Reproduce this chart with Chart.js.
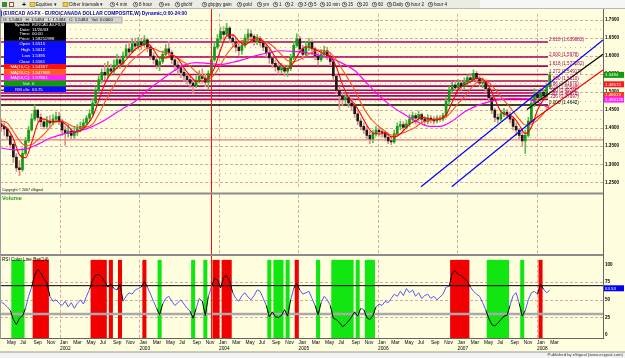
<!DOCTYPE html>
<html>
<head>
<meta charset="utf-8">
<title>EURCAD A0-FX weekly</title>
<script src="https://cdn.jsdelivr.net/npm/chart.js@4.4.1/dist/chart.umd.min.js"></script>
<style>
  html, body { margin: 0; padding: 0; background: #fff; }
  #wrap { position: relative; width: 625px; height: 358px; overflow: hidden; }
  #wrap canvas { position: absolute; left: 0; }
</style>
</head>
<body>
<div id="wrap">
  <canvas id="frame" width="625" height="358" style="top:0"></canvas>
  <canvas id="price" width="625" height="184" style="top:9px"></canvas>
  <canvas id="rsi" width="625" height="97" style="top:255px"></canvas>
  <canvas id="overlay" width="625" height="358" style="top:0"></canvas>
</div>
<script>
// bars are two weeks apart, first one early April 2001
const firstBar = 2001.26;
const barStep = 14 / 365.25;

const opens = [
  1.412,1.405,1.398,1.378,1.355,1.320,1.290,1.285,1.330,1.365,
  1.395,1.425,1.450,1.430,1.418,1.405,1.420,1.415,1.425,1.432,
  1.420,1.395,1.385,1.392,1.380,1.392,1.398,1.405,1.415,1.428,
  1.440,1.470,1.505,1.535,1.555,1.548,1.565,1.558,1.575,1.590,
  1.580,1.600,1.620,1.612,1.635,1.628,1.640,1.632,1.645,1.625,
  1.600,1.590,1.575,1.585,1.605,1.620,1.610,1.590,1.575,1.568,
  1.555,1.545,1.535,1.525,1.518,1.530,1.545,1.538,1.528,1.552,
  1.590,1.625,1.648,1.668,1.660,1.678,1.650,1.640,1.625,1.615,
  1.630,1.650,1.662,1.655,1.640,1.648,1.638,1.625,1.610,1.595,
  1.580,1.570,1.562,1.568,1.558,1.565,1.595,1.630,1.648,1.620,
  1.605,1.625,1.638,1.620,1.600,1.590,1.605,1.615,1.600,1.585,
  1.545,1.505,1.490,1.480,1.485,1.470,1.462,1.440,1.420,1.405,
  1.395,1.380,1.370,1.385,1.395,1.390,1.388,1.375,1.365,1.362,
  1.385,1.405,1.410,1.402,1.412,1.425,1.435,1.428,1.438,1.425,
  1.418,1.428,1.425,1.420,1.428,1.425,1.435,1.475,1.505,1.520,
  1.512,1.525,1.515,1.528,1.540,1.535,1.552,1.538,1.525,1.530,
  1.510,1.485,1.450,1.430,1.425,1.440,1.445,1.438,1.425,1.405,
  1.395,1.380,1.365,1.380,1.420,1.470,1.495,1.485,1.500,1.490,
  1.515];
const highs = [
  1.425,1.415,1.400,1.382,1.360,1.330,1.310,1.345,1.375,1.405,
  1.440,1.465,1.452,1.440,1.425,1.432,1.435,1.438,1.445,1.444,
  1.425,1.405,1.408,1.400,1.405,1.410,1.418,1.425,1.435,1.452,
  1.480,1.515,1.545,1.565,1.580,1.585,1.578,1.590,1.605,1.600,
  1.612,1.632,1.638,1.648,1.650,1.652,1.650,1.657,1.650,1.630,
  1.610,1.600,1.598,1.615,1.632,1.641,1.615,1.598,1.585,1.575,
  1.565,1.552,1.545,1.535,1.545,1.560,1.565,1.550,1.560,1.600,
  1.640,1.660,1.680,1.682,1.691,1.682,1.660,1.648,1.638,1.640,
  1.660,1.675,1.672,1.660,1.660,1.655,1.645,1.632,1.618,1.600,
  1.590,1.582,1.580,1.575,1.575,1.605,1.640,1.662,1.655,1.630,
  1.640,1.649,1.645,1.625,1.610,1.618,1.628,1.625,1.610,1.590,
  1.550,1.515,1.500,1.498,1.492,1.480,1.468,1.448,1.428,1.415,
  1.405,1.392,1.395,1.405,1.402,1.400,1.392,1.385,1.378,1.395,
  1.415,1.420,1.418,1.422,1.438,1.445,1.442,1.448,1.442,1.432,
  1.438,1.435,1.432,1.435,1.435,1.442,1.485,1.515,1.528,1.530,
  1.535,1.532,1.540,1.548,1.552,1.562,1.558,1.545,1.540,1.535,
  1.515,1.490,1.455,1.440,1.450,1.455,1.452,1.445,1.430,1.415,
  1.400,1.392,1.395,1.430,1.480,1.510,1.508,1.510,1.508,1.525,
  1.556];
const lows = [
  1.392,1.380,1.368,1.345,1.305,1.280,1.268,1.280,1.325,1.360,
  1.392,1.420,1.418,1.405,1.398,1.400,1.405,1.410,1.415,1.410,
  1.380,1.352,1.375,1.370,1.372,1.380,1.390,1.398,1.410,1.420,
  1.435,1.465,1.500,1.525,1.535,1.540,1.545,1.550,1.565,1.565,
  1.575,1.595,1.600,1.610,1.615,1.620,1.618,1.625,1.612,1.590,
  1.580,1.565,1.560,1.580,1.595,1.600,1.580,1.560,1.550,1.540,
  1.530,1.522,1.512,1.496,1.512,1.525,1.525,1.515,1.510,1.545,
  1.585,1.620,1.640,1.645,1.655,1.638,1.625,1.612,1.602,1.605,
  1.625,1.640,1.640,1.630,1.632,1.628,1.615,1.598,1.580,1.568,
  1.558,1.550,1.552,1.545,1.544,1.560,1.590,1.625,1.610,1.590,
  1.600,1.615,1.605,1.590,1.575,1.585,1.595,1.590,1.575,1.535,
  1.495,1.452,1.462,1.468,1.458,1.450,1.430,1.410,1.395,1.385,
  1.370,1.357,1.360,1.378,1.378,1.375,1.365,1.357,1.354,1.358,
  1.380,1.395,1.392,1.398,1.405,1.415,1.412,1.420,1.412,1.408,
  1.412,1.415,1.412,1.415,1.418,1.420,1.430,1.465,1.498,1.505,
  1.505,1.505,1.510,1.520,1.525,1.530,1.528,1.515,1.512,1.498,
  1.475,1.440,1.418,1.415,1.420,1.432,1.428,1.415,1.395,1.380,
  1.370,1.350,1.330,1.375,1.415,1.460,1.478,1.480,1.478,1.485,
  1.510];
const closes = [
  1.405,1.398,1.378,1.355,1.320,1.290,1.285,1.330,1.365,1.395,
  1.425,1.450,1.430,1.418,1.405,1.420,1.415,1.425,1.432,1.420,
  1.395,1.385,1.392,1.380,1.392,1.398,1.405,1.415,1.428,1.440,
  1.470,1.505,1.535,1.555,1.548,1.565,1.558,1.575,1.590,1.580,
  1.600,1.620,1.612,1.635,1.628,1.640,1.632,1.645,1.625,1.600,
  1.590,1.575,1.585,1.605,1.620,1.610,1.590,1.575,1.568,1.555,
  1.545,1.535,1.525,1.518,1.530,1.545,1.538,1.528,1.552,1.590,
  1.625,1.648,1.668,1.660,1.678,1.650,1.640,1.625,1.615,1.630,
  1.650,1.662,1.655,1.640,1.648,1.638,1.625,1.610,1.595,1.580,
  1.570,1.562,1.568,1.558,1.565,1.595,1.630,1.648,1.620,1.605,
  1.625,1.638,1.620,1.600,1.590,1.605,1.615,1.600,1.585,1.545,
  1.505,1.490,1.480,1.485,1.470,1.462,1.440,1.420,1.405,1.395,
  1.380,1.370,1.385,1.395,1.390,1.388,1.375,1.365,1.362,1.385,
  1.405,1.410,1.402,1.412,1.425,1.435,1.428,1.438,1.425,1.418,
  1.428,1.425,1.420,1.428,1.425,1.435,1.475,1.505,1.520,1.512,
  1.525,1.515,1.528,1.540,1.535,1.552,1.538,1.525,1.530,1.510,
  1.485,1.450,1.430,1.425,1.440,1.445,1.438,1.425,1.405,1.395,
  1.380,1.365,1.380,1.420,1.470,1.495,1.485,1.500,1.490,1.515,
  1.548];

// moving averages as drawn: ma10/ma20 every 2nd bar, ma50 every 4th bar
const ma10 = [
  1.410,1.400,1.371,1.326,1.318,1.360,1.413,1.426,1.418,1.419,
  1.417,1.405,1.389,1.393,1.408,1.432,1.476,1.523,1.552,1.567,
  1.581,1.600,1.619,1.629,1.634,1.618,1.595,1.595,1.602,1.593,
  1.567,1.546,1.531,1.531,1.539,1.567,1.617,1.656,1.659,1.642,
  1.632,1.642,1.651,1.641,1.623,1.596,1.575,1.565,1.583,1.612,
  1.626,1.622,1.615,1.606,1.599,1.570,1.521,1.486,1.467,1.439,
  1.408,1.387,1.384,1.387,1.376,1.378,1.393,1.411,1.420,1.430,
  1.427,1.423,1.425,1.437,1.472,1.507,1.520,1.529,1.539,1.536,
  1.518,1.481,1.446,1.436,1.431,1.409,1.385,1.403,1.450,1.480,1.497];
const ma20 = [
  1.420,1.415,1.391,1.366,1.352,1.354,1.368,1.383,1.402,1.419,
  1.420,1.412,1.404,1.402,1.403,1.411,1.438,1.472,1.503,1.533,
  1.559,1.580,1.596,1.610,1.622,1.621,1.613,1.610,1.604,1.594,
  1.583,1.572,1.556,1.544,1.538,1.549,1.576,1.605,1.626,1.639,
  1.645,1.646,1.644,1.639,1.635,1.621,1.604,1.587,1.584,1.591,
  1.600,1.610,1.617,1.615,1.609,1.590,1.562,1.535,1.506,1.471,
  1.442,1.420,1.404,1.392,1.381,1.382,1.387,1.394,1.403,1.416,
  1.421,1.424,1.427,1.431,1.448,1.469,1.487,1.509,1.526,1.530,
  1.526,1.509,1.487,1.468,1.447,1.425,1.409,1.411,1.423,1.441,1.466];
const ma50 = [
  1.345,1.340,1.342,1.355,1.372,1.383,1.390,1.398,1.413,1.433,
  1.455,1.475,1.505,1.530,1.555,1.575,1.582,1.580,1.577,1.583,
  1.592,1.602,1.610,1.615,1.613,1.610,1.603,1.595,1.580,1.560,
  1.525,1.490,1.462,1.440,1.420,1.406,1.405,1.420,1.445,1.462,
  1.473,1.480,1.483,1.482,1.472,1.455];

const rsi = [
  47,44,40,35,22,15,24,27,38,55,
  68,85,93,88,80,74,55,48,50,45,
  42,48,40,46,38,45,50,44,55,65,
  78,85,86,82,76,68,72,66,64,72,
  48,55,60,58,64,66,68,76,68,58,
  48,38,29,44,52,55,48,42,46,50,
  44,38,34,24,38,52,48,28,55,68,
  80,78,67,82,84,76,60,52,48,56,
  60,54,50,56,64,62,52,42,26,33,
  26,25,28,36,27,50,66,73,64,58,
  60,62,52,42,29,46,55,50,42,24,
  22,18,12,15,20,26,33,27,38,36,
  25,22,28,40,44,42,48,46,52,58,
  55,62,56,66,60,64,55,60,52,56,
  58,52,55,50,54,58,68,69,88,91,
  86,84,80,76,68,62,58,55,46,36,
  24,15,13,17,22,27,28,42,56,60,
  45,27,35,50,60,62,58,72,65,60,
  63.5];
const overbought = 70;
const oversold = 30;

const fibRatios = ['2.618', '2.000', '1.618', '1.272', '1.000', '.786', '.618', '.500', '.382', '.236', '0.000'];
const fibLevels = [1.639082, 1.5978, 1.572282, 1.54917, 1.5310, 1.516705, 1.505482, 1.4976, 1.489718, 1.479965, 1.4642];
const fibText = ['1.639082', '1.5978', '1.572282', '1.54917', '1.5310', '1.51670', '1.50548', '1.4976', '1.48972', '1.47997', '1.4642'];
const supportLevel = 1.3675;

const blueLine1 = [{x: 2006.541, y: 1.2376}, {x: 2008.83, y: 1.6447}];
const blueLine2 = [{x: 2006.927, y: 1.2376}, {x: 2007.975, y: 1.4255}];
const blackLine = [{x: 2007.874, y: 1.4518}, {x: 2008.83, y: 1.6053}];
const redLine = [{x: 2007.887, y: 1.4124}, {x: 2008.83, y: 1.5616}];

const priceTicks = [1.25, 1.30, 1.35, 1.40, 1.45, 1.50, 1.55, 1.60, 1.65, 1.70];
const priceMinor = [1.275, 1.325, 1.375, 1.425, 1.475, 1.525, 1.575, 1.625, 1.675];
const rsiTicks = [0, 25, 50, 75, 100];
const monthNames = ['Jan', 'Feb', 'Mar', 'Apr', 'May', 'Jun', 'Jul', 'Aug', 'Sep', 'Oct', 'Nov', 'Dec'];
const yearStarts = [2002, 2003, 2004, 2005, 2006, 2007, 2008];
const cursorT = 2003.895;   // 11/26/03
const fibEnd = 2008.138;

// visible window of both panes
const X_MIN = 2001.2453, X_MAX = 2008.8302;
const P_MIN = 1.2334, P_MAX = 1.7176;
const R_MIN = -4, R_MAX = 106.67;

const FONT = '"Liberation Sans", Arial, sans-serif';
Chart.defaults.font.family = FONT;

const barT = closes.map((c, i) => firstBar + i * barStep);
const isUp = closes.map((c, i) => c >= opens[i]);
const inZone = v => v > overbought || v < oversold;

const paneGrid = {
  id: 'paneGrid',
  beforeDatasetsDraw(chart, args, o) {
    const {ctx, chartArea: a, scales: {x, y}} = chart;
    ctx.save();
    ctx.lineWidth = 1;
    const h = (v, dash, col) => {
      const py = Math.round(y.getPixelForValue(v)) + 0.5;
      ctx.setLineDash(dash); ctx.strokeStyle = col;
      ctx.beginPath(); ctx.moveTo(a.left, py); ctx.lineTo(a.right, py); ctx.stroke();
    };
    (o.minor || []).forEach(v => h(v, [1, 4], '#c8b4a8'));
    (o.major || []).forEach(v => h(v, [3, 2], '#d9a8a8'));
    ctx.setLineDash([3, 2]); ctx.strokeStyle = '#d9a8a8';
    (o.vertical || []).forEach(v => {
      const px = Math.round(x.getPixelForValue(v)) + 0.5;
      ctx.beginPath(); ctx.moveTo(px, a.top); ctx.lineTo(px, a.bottom); ctx.stroke();
    });
    ctx.restore();
  }
};

const fibTags = {
  id: 'fibTags',
  afterDatasetsDraw(chart) {
    const {ctx, scales: {x, y}} = chart;
    ctx.save();
    ctx.font = '4.6px ' + FONT;
    ctx.textBaseline = 'middle';
    fibLevels.forEach((lv, k) => {
      ctx.fillStyle = k === fibLevels.length - 1 ? '#000' : '#a8005a';
      ctx.fillText(fibRatios[k] + ' (' + fibText[k] + ')', x.getPixelForValue(fibEnd) + 1, y.getPixelForValue(lv) - 2.6);
    });
    ctx.restore();
  }
};

const flat = (lv, x1) => [{x: X_MIN, y: lv}, {x: x1, y: lv}];
const lineDs = (data, color, width, order, extra) => Object.assign({
  type: 'line', data, borderColor: color, borderWidth: width, pointRadius: 0, order
}, extra || {});

const priceSets = [];
fibLevels.forEach((lv, k) => priceSets.push(lineDs(flat(lv, fibEnd), k === fibLevels.length - 1 ? '#000' : '#b0005c', 1.6, 30)));
priceSets.push(lineDs(flat(supportLevel, X_MAX), '#ea7a7a', 1.2, 30));
priceSets.push({
  type: 'bar', data: barT.map((t, i) => ({x: t, y: [lows[i], highs[i]]})),
  backgroundColor: isUp.map(u => u ? '#5cbc5c' : '#e48c8c'),
  barThickness: 1, grouped: false, order: 20
});
priceSets.push({
  type: 'bar', data: barT.map((t, i) => ({x: t, y: [opens[i], closes[i]]})),
  backgroundColor: isUp.map(u => u ? '#169a16' : '#1a1a1a'),
  barThickness: 2, minBarLength: 1, grouped: false, order: 19
});
const smooth = {tension: 0.35, cubicInterpolationMode: 'monotone'};
priceSets.push(lineDs(ma50.map((v, k) => ({x: barT[k * 4], y: v})), '#ff00ff', 1.2, 5, smooth));
priceSets.push(lineDs(ma20.map((v, k) => ({x: barT[k * 2], y: v})), '#ff5020', 1.1, 4, smooth));
priceSets.push(lineDs(ma10.map((v, k) => ({x: barT[k * 2], y: v})), '#ff0000', 1.1, 3, smooth));
priceSets.push(lineDs(blueLine1, '#0000ff', 1.2, 1));
priceSets.push(lineDs(blueLine2, '#0000ff', 1.2, 1));
priceSets.push(lineDs(blackLine, '#000000', 1.2, 1));
priceSets.push(lineDs(redLine, '#ff0000', 1.2, 1));

const priceChart = new Chart(document.getElementById('price'), {
  type: 'line',
  data: {datasets: priceSets},
  options: {
    responsive: false, animation: false, events: [],
    layout: {padding: 0, autoPadding: false},
    plugins: {
      legend: {display: false}, tooltip: {enabled: false},
      paneGrid: {major: priceTicks, minor: priceMinor, vertical: yearStarts}
    },
    scales: {
      x: {type: 'linear', min: X_MIN, max: X_MAX, display: false, offset: false},
      y: {
        position: 'right', min: P_MIN, max: P_MAX,
        afterBuildTicks: s => { s.ticks = priceTicks.map(v => ({value: v})); },
        afterFit: s => { s.width = 22; },
        ticks: {color: '#000', font: {size: 4.6, weight: 'bold'}, padding: 2, callback: v => v.toFixed(4)},
        grid: {display: false, drawTicks: false},
        border: {color: '#555', width: 1}
      }
    }
  },
  plugins: [paneGrid, fibTags]
});

const monthTicks = [];
for (let yr = 2001; yr <= 2008; yr++) {
  [1, 3, 5, 7, 9, 11].forEach(m => {
    const t = yr + (m - 1) / 12;
    if (t > 2001.3 && t < 2008.2) monthTicks.push(t);
  });
}

const rsiChart = new Chart(document.getElementById('rsi'), {
  type: 'line',
  data: {datasets: [
    {
      type: 'bar', order: 20, grouped: false, barThickness: 3.4,
      data: rsi.map((v, i) => ({x: barT[i], y: inZone(v) ? [R_MIN, R_MAX] : null})),
      backgroundColor: rsi.map(v => v > overbought ? '#f00000' : '#12e612')
    },
    lineDs(flat(overbought, X_MAX), '#000', 1, 6),
    lineDs(flat(oversold, X_MAX), '#a9a9a9', 2.5, 6),
    lineDs(rsi.map((v, i) => ({x: barT[i], y: v})), '#5656ff', 1, 1, {
      segment: {borderColor: c => (inZone(c.p0.parsed.y) || inZone(c.p1.parsed.y)) ? '#000' : '#5656ff'}
    })
  ]},
  options: {
    responsive: false, animation: false, events: [],
    layout: {padding: 0, autoPadding: false},
    plugins: {
      legend: {display: false}, tooltip: {enabled: false},
      paneGrid: {major: [25, 50, 75], vertical: yearStarts}
    },
    scales: {
      x: {
        type: 'linear', min: X_MIN, max: X_MAX, offset: false,
        afterBuildTicks: s => { s.ticks = monthTicks.map(v => ({value: v})); },
        afterFit: s => { s.height = 14; },
        ticks: {
          autoSkip: false, maxRotation: 0, align: 'start', padding: 1, color: '#000',
          font: {size: 4.8, lineHeight: 1.4},
          callback: v => {
            const yr = Math.floor(v + 1e-6);
            const m = Math.round((v - yr) * 12);
            return m === 0 ? [monthNames[m], String(yr)] : monthNames[m];
          }
        },
        grid: {display: false, drawTicks: false},
        border: {display: false}
      },
      y: {
        position: 'right', min: R_MIN, max: R_MAX,
        afterBuildTicks: s => { s.ticks = rsiTicks.map(v => ({value: v})); },
        afterFit: s => { s.width = 22; },
        ticks: {color: '#000', font: {size: 4.6, weight: 'bold'}, padding: 2},
        grid: {display: false, drawTicks: false},
        border: {color: '#555', width: 1}
      }
    }
  },
  plugins: [paneGrid]
});

// ---------- window chrome behind the charts ----------
const fr = document.getElementById('frame').getContext('2d');
function txt(ctx, s, x, y, size, color, opt) {
  opt = opt || {};
  ctx.font = (opt.bold ? 'bold ' : '') + size + 'px ' + FONT;
  ctx.fillStyle = color;
  ctx.textAlign = opt.align || 'left';
  ctx.textBaseline = 'middle';
  if (opt.w) ctx.fillText(s, x, y, opt.w); else ctx.fillText(s, x, y);
}
fr.fillStyle = '#ffffe0';
fr.fillRect(0, 9, 625, 343);
fr.fillStyle = '#ecebe4';
fr.fillRect(0, 0, 480, 9);
fr.fillStyle = '#f7f7f7';
fr.fillRect(480, 0, 145, 9);
fr.fillStyle = '#b8b8b8';
fr.fillRect(0, 8, 625, 1);
// toolbar
fr.fillStyle = '#3c8a3c'; fr.fillRect(2, 2, 5, 5);
fr.fillStyle = '#8a5a2a'; fr.fillRect(9, 2, 5, 5);
fr.fillStyle = '#ffffff'; fr.fillRect(10, 3, 3, 3);
txt(fr, '+', 22, 4.6, 7, '#000', {bold: true});
const toolItems = [
  ['f', 30, 'Equities \u25BE'], ['f', 63, 'Other Intervals \u25BE'],
  ['c', 110, '4 min'], ['c', 133, '8 hour'], ['c', 159, 'es'], ['c', 175, 'gbchf'],
  ['c', 202, 'gbpjpy gain'], ['c', 237, 'gold'], ['c', 257, 'ym'], ['c', 273, '1'],
  ['c', 285, '2'], ['c', 298, '3'], ['c', 308, '5'], ['c', 320, '10 min'],
  ['c', 342, '15'], ['c', 357, '20'], ['c', 372, '60'], ['c', 387, 'Daily'],
  ['c', 405, 'hour 2'], ['c', 428, 'hour 4']
];
toolItems.forEach(([kind, x, label]) => {
  if (kind === 'f') {
    fr.fillStyle = '#f0cc48'; fr.fillRect(x, 2.5, 5, 4);
    fr.strokeStyle = '#a07a10'; fr.lineWidth = 0.6; fr.strokeRect(x, 2.5, 5, 4);
  } else {
    fr.strokeStyle = '#333'; fr.lineWidth = 0.7;
    fr.beginPath(); fr.arc(x + 2.5, 4.5, 2.2, 0, Math.PI * 2); fr.stroke();
    fr.beginPath(); fr.moveTo(x + 2.5, 3); fr.lineTo(x + 2.5, 4.6); fr.lineTo(x + 3.6, 4.6); fr.stroke();
  }
  txt(fr, label, x + 6, 4.6, 4.6, '#111');
});
// bottom strip
fr.fillStyle = '#f3f3f3';
fr.fillRect(0, 352, 625, 6);
fr.fillStyle = '#9a9a9a';
fr.fillRect(0, 351.5, 625, 1);
txt(fr, 'Published by eSignal (www.esignal.com)', 623, 355.3, 4.2, '#333', {align: 'right'});

// ---------- overlay: pane borders, volume pane, legends ----------
const ov = document.getElementById('overlay').getContext('2d');
const xs = priceChart.scales.x;
const ys = priceChart.scales.y;
const rs = rsiChart.scales.y;

ov.save();
ov.strokeStyle = '#d9a8a8'; ov.lineWidth = 1; ov.setLineDash([3, 2]);
yearStarts.forEach(t => {
  const px = Math.round(xs.getPixelForValue(t)) + 0.5;
  ov.beginPath(); ov.moveTo(px, 195); ov.lineTo(px, 254); ov.stroke();
});
ov.restore();

const cx = Math.round(xs.getPixelForValue(cursorT));
ov.fillStyle = '#ff1010';
ov.fillRect(cx, 9, 1, 329);

ov.fillStyle = '#8c8c8c';
ov.fillRect(0, 192.5, 603, 2);
ov.fillRect(0, 254, 603, 2);
ov.fillStyle = '#666';
ov.fillRect(0, 338, 603, 1);
ov.fillRect(603, 9, 1, 330);
ov.fillStyle = '#9a9a9a';
ov.fillRect(0, 9, 1, 330);

txt(ov, 'Volume', 2, 198.5, 5.6, '#2a9a2a', {bold: true});
txt(ov, 'RSI Color Line Bar(14)', 2, 260, 4.6, '#000', {w: 52});
txt(ov, 'Copyright \u00A9 2007 eSignal', 2, 189.5, 3.6, '#000');

// title and OHLC strip
ov.fillStyle = '#0000c8'; ov.fillRect(1, 10.5, 0.8, 6);
txt(ov, '(EURCAD A0-FX - EURO/CANADA DOLLAR COMPOSITE,W) Dynamic,0:00-24:00', 3, 13.6, 5.6, '#0000c8', {bold: true, w: 184});
ov.fillStyle = '#d4d4d4'; ov.fillRect(1, 17, 121, 6);
ov.strokeStyle = '#8a8a8a'; ov.lineWidth = 0.6; ov.strokeRect(1, 17, 121, 6);
txt(ov, 'O: 1.5484   H: 1.5484   L: 1.5484   C: 1.5484   Vol: 0.0000', 3, 20.1, 4.3, '#000', {w: 117});

// cursor data window
const winRows = [
  ['#000000', 22.5, 4.6, [['Symbol:', 'EURCAD A0-FX,W'], ['Date:', '11/26/03'], ['Time:', '00:00'], ['Price:', '1.58211998']]],
  ['#0a0aff', 41, 5.75, [['Open', '1.5515'], ['High', '1.5612'], ['Low', '1.5395'], ['Close', '1.5561']]],
  ['#ff1010', 64, 5.5, [['MA(10,C):', '1.54367']]],
  ['#ff5a20', 69.5, 5.5, [['MA(20,C):', '1.547988']]],
  ['#ff20ff', 75, 5.5, [['MA(50,C):', '1.57961']]],
  ['#0c9c0c', 80.5, 6, [['Vol:', '0']]],
  ['#0a0aff', 86.5, 5.5, [['RSI clb:', '63.75']]]
];
winRows.forEach(([bg, top, step, rows]) => {
  ov.fillStyle = bg;
  ov.fillRect(4, top, 62, step * rows.length);
  rows.forEach(([k, v], j) => {
    const yy = top + step * j + step / 2 + 0.2;
    txt(ov, k, 30, yy, 4.3, '#fff', {align: 'right'});
    txt(ov, v, 32, yy, 4.3, '#fff', {w: 33});
  });
});

// right-hand value tags
function tag(text, y, bg, fg) {
  ov.fillStyle = bg;
  ov.fillRect(604, y - 3, 20, 6);
  txt(ov, text, 605, y + 0.2, 4.4, fg, {w: 19});
}
tag('1.5484', ys.getPixelForValue(closes[closes.length - 1]) + 9, '#129a12', '#fff');
tag('1.49572', 84.3, '#ff1a1a', '#fff');
tag('1.46619', 95, '#ff3a1a', '#fff');
tag('1.455128', 99.6, '#ff22ff', '#fff');
tag('63.53', rs.getPixelForValue(rsi[rsi.length - 1]) + 255 - 2, '#0000ff', '#fff');
</script>
</body>
</html>
